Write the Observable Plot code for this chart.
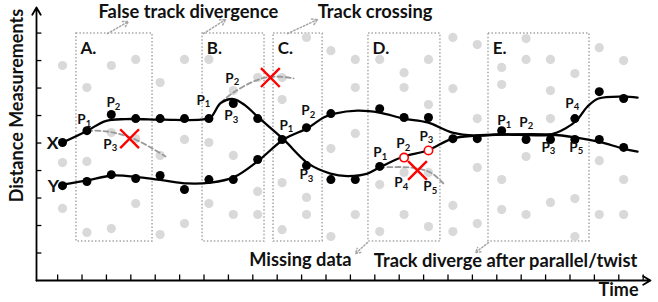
<!DOCTYPE html>
<html>
<head>
<meta charset="utf-8">
<script src="https://cdn.jsdelivr.net/npm/d3@7"></script>
<script src="https://cdn.jsdelivr.net/npm/@observablehq/plot@0.6"></script>
<style>
  html, body { margin: 0; padding: 0; background: #fff; }
  #chart svg { display: block; }
</style>
</head>
<body>
<div id="chart"></div>
<script>
// ---- scales (time in measurement columns, distance in tick units) ----
const xDomain = [-0.066, 25.1];
const yDomain = [0, 9.93];
const xTickPos = d3.range(0.8, 25, 1);
const yTickPos = [1, 2, 3, 4, 5, 6, 7, 8, 9];

// ---- clutter / background measurements (gray) ----
const grayDots = [
  [1,7.82],[1,4.29],[1,2.62],
  [2,7.02],[2,4.33],[2,1.75],
  [3,7.82],[3,5.38],[3,1.89],
  [4,8.04],[4,5.16],[4,2.80],
  [5,7.20],[5,4.55],[5,1.67],
  [6,8.04],[6,5.13],[6,2.07],
  [7,8.04],[7,5.02],[7,2.80],
  [8,6.91],[8,4.55],[8,2.40],
  [9,7.38],[9,3.24],[9,2.40],
  [10,7.38],[10,6.58],[10,3.56],[10,1.85],
  [11,8.84],[11,3.02],[11,2.40],
  [12,8.36],[12,4.80],[12,1.60],
  [13,8.04],[13,7.02],[13,5.35],[13,2.40],
  [14,8.04],[14,3.49],[14,1.78],
  [15,7.56],[15,7.02],[15,3.93],[15,2.40],
  [16,8.04],[16,6.40],[16,3.93],[16,1.96],
  [17,8.84],[17,6.98],[17,2.73],[17,1.78],
  [18,8.58],[18,5.89],[18,4.11],[18,2.07],
  [19,7.75],[19,7.13],[19,3.67],[19,2.58],
  [20,8.80],[20,8.04],[20,4.51],[20,2.40],
  [21,8.04],[21,6.91],[21,5.89],[21,2.84],
  [22,7.53],[22,2.98],[22,1.60],
  [23,8.47],[23,4.36],[23,2.40],
  [24,8.00],[24,3.67],[24,2.40]
];

// ---- track X measurements (black) ----
const trackXDots = [
  [1,5.02],[2,5.45],[3,6.04],[4,5.89],[5,5.89],[6,5.89],[7,5.89],[8,6.44],
  [9,5.89],[10,5.13],[11,4.18],[12,3.67],[13,3.67],[14,4.15],
  [17,5.16],[18,5.16],[19,5.45],[20,5.13],[21,5.13],[22,5.13],[23,5.13],[24,4.84]
];
// ---- track Y measurements (black) ----
const trackYDots = [
  [1,3.45],[2,3.60],[3,3.85],[4,3.71],[5,3.82],[6,3.31],[7,3.67],[8,3.67],
  [9,4.40],[11,5.56],[12,6.07],[14,6.25],[15,5.93],[16,5.93],
  [22,5.89],[23,6.87],[24,6.62]
];
// ---- ambiguous measurements (red open circles) ----
const openDots = [[15,4.47],[16,4.73]];

// ---- estimated track curves ----
const trackXLine = [
  [1.00,5.02],[2.02,5.45],[2.76,5.80],[3.58,5.87],[5.14,5.85],[6.66,5.85],[7.07,5.93],
  [7.48,6.45],[8.01,6.60],[8.50,6.36],[9.03,5.93],[10.06,5.13],[11.08,4.25],[11.98,3.89],
  [12.68,3.80],[13.50,3.89],[13.99,4.11],[14.98,4.51],[15.96,4.73],[16.98,5.16],
  [17.93,5.27],[18.95,5.31],[21.00,5.31],[22.07,5.20],[22.97,5.05],[23.99,4.80],[24.57,4.69]
];
const trackYLine = [
  [1.00,3.49],[2.02,3.64],[3.05,3.82],[4.16,3.75],[5.14,3.64],[6.12,3.53],[7.07,3.56],
  [8.01,3.75],[9.03,4.36],[10.06,5.13],[11.08,5.56],[11.70,5.93],[12.15,6.07],[13.09,6.18],
  [13.99,6.11],[14.98,5.89],[15.96,5.75],[16.98,5.38],[17.93,5.27],[18.95,5.31],[21.00,5.31],
  [21.61,5.53],[22.07,5.82],[22.52,6.33],[22.97,6.62],[23.99,6.69],[24.57,6.65]
];
// ---- false hypotheses (gray dashed) ----
const ghostA = [[2.02,5.45],[2.84,5.42],[3.79,5.20],[4.61,4.84],[5.22,4.51]];
const ghostB = [[7.48,6.47],[8.01,6.84],[9.03,7.31],[9.73,7.42],[10.47,7.35]];
const ghostD = [[13.99,4.11],[15.26,4.11],[16.08,3.93],[16.61,3.53]];
// ---- rejected hypotheses (red crosses) ----
const rejects = [[3.75,5.16],[9.52,7.38],[15.55,4.00]];

// ---- scenario boxes ----
const boxNames = ["A.", "B.", "C.", "D.", "E."];
const boxStart = [1.57, 6.74, 9.65, 13.54, 18.46];
const boxEnd   = [4.69, 9.28, 11.66, 16.49, 22.60];
const boxBottom = 1.42, boxTop = 8.98;

// ---- point labels: [time, distance, subscript] ----
const pLabels = [
  [1.78,5.85,"1"],[2.97,6.47,"2"],[2.84,4.95,"3"],
  [6.66,6.55,"1"],[7.84,7.35,"2"],[7.80,6.00,"3"],
  [10.06,5.64,"1"],[10.96,6.18,"2"],[10.88,3.85,"3"],
  [13.91,4.65,"1"],[14.85,4.98,"2"],[15.80,5.24,"3"],[14.77,3.56,"4"],[15.96,3.42,"5"],
  [18.99,5.82,"1"],[19.89,5.75,"2"],[20.80,4.84,"3"],[21.78,6.44,"4"],[21.94,4.84,"5"]
];
const trackNames = [["X",0.59,4.98],["Y",0.63,3.42]];

// ---- annotations ----
const notes = [
  ["False track divergence", 6.16, 9.75],
  ["Track crossing", 13.81, 9.75],
  ["Missing data", 10.75, 0.73],
  ["Track diverge after parallel/twist", 19.16, 0.69]
];
const noteArrows = [
  [2.84,8.98,3.70,9.42],
  [6.78,8.98,7.68,9.49],
  [10.22,8.98,11.45,9.49],
  [13.50,1.38,13.01,0.98],
  [18.46,1.38,17.93,1.02]
];

const F = "Lato, sans-serif";
const xy = {x: d => d[0], y: d => d[1]};

const chart = Plot.plot({
  width: 658, height: 302,
  marginLeft: 36, marginRight: 8, marginTop: 7, marginBottom: 22,
  x: {domain: xDomain, axis: null},
  y: {domain: yDomain, axis: null},
  style: {background: "#fff", fontFamily: F, overflow: "visible"},
  marks: [
    Plot.rect(boxNames.map((n, i) => i), {
      x1: i => boxStart[i], x2: i => boxEnd[i], y1: boxBottom, y2: boxTop,
      fill: "none", stroke: "#a6a6a6", strokeWidth: 1.5, strokeDasharray: "1.5,2"
    }),
    Plot.text(boxNames, {
      x: (d, i) => boxStart[i] + 0.17, y: boxTop - 0.54, text: d => d,
      textAnchor: "start", fontSize: 17, fontWeight: "bold", fill: "#111"
    }),
    Plot.dot(grayDots, {...xy, r: 4.6, fill: "#d9d9d9"}),
    Plot.line(ghostA, {...xy, curve: "catmull-rom", stroke: "#999", strokeWidth: 1.8, strokeDasharray: "5,3"}),
    Plot.line(ghostB, {...xy, curve: "catmull-rom", stroke: "#999", strokeWidth: 1.8, strokeDasharray: "5,3"}),
    Plot.line(ghostD, {...xy, curve: "catmull-rom", stroke: "#999", strokeWidth: 1.8, strokeDasharray: "5,3"}),
    Plot.line(trackXLine, {...xy, curve: "catmull-rom", stroke: "#000", strokeWidth: 2.3}),
    Plot.line(trackYLine, {...xy, curve: "catmull-rom", stroke: "#000", strokeWidth: 2.3}),
    Plot.dot(trackXDots, {...xy, r: 4.5, fill: "#000"}),
    Plot.dot(trackYDots, {...xy, r: 4.5, fill: "#000"}),
    Plot.dot(openDots, {...xy, r: 4.2, fill: "#fff", stroke: "#f00", strokeWidth: 1.6}),
    Plot.dot(rejects, {...xy, symbol: "times", r: 8.6, stroke: "#f00", strokeWidth: 2.4}),
    Plot.text(pLabels, {...xy, text: () => "P", fontSize: 13.5, fontWeight: "bold", fill: "#111"}),
    Plot.text(pLabels, {...xy, text: d => d[2], dx: 7, dy: 4, fontSize: 9.5, fontWeight: "bold", fill: "#111"}),
    Plot.text(trackNames, {x: d => d[1], y: d => d[2], text: d => d[0], fontSize: 17.5, fontWeight: "bold", fill: "#111"}),
    Plot.text(notes, {x: d => d[1], y: d => d[2], text: d => d[0], fontSize: 18.3, fontWeight: "bold", fill: "#111"}),
    Plot.arrow(noteArrows, {
      x1: d => d[0], y1: d => d[1], x2: d => d[2], y2: d => d[3],
      stroke: "#a6a6a6", strokeWidth: 1.5, strokeDasharray: "1.5,2", headLength: 6
    }),
    // axes
    Plot.ruleX(xTickPos, {x: d => d, y1: 0, y2: 0.2, stroke: "#000", strokeWidth: 1.3}),
    Plot.ruleY(yTickPos, {y: d => d, x1: xDomain[0], x2: xDomain[0] + 0.22, stroke: "#000", strokeWidth: 1.3}),
    Plot.arrow([0], {x1: xDomain[0], y1: 0, x2: xDomain[1], y2: 0, stroke: "#000", strokeWidth: 1.8, headLength: 7, insetEnd: 0}),
    Plot.arrow([0], {x1: xDomain[0], y1: 0, x2: xDomain[0], y2: yDomain[1], stroke: "#000", strokeWidth: 1.8, headLength: 7, insetEnd: 0}),
    Plot.text(["Time"], {x: 23.79, y: -0.36, text: d => d, fontSize: 18, fontWeight: "bold", fill: "#111"}),
    Plot.text(["Distance Measurements"], {x: -0.84, y: 6.36, text: d => d, rotate: -90, fontSize: 18, fontWeight: "bold", fill: "#111"})
  ]
});
document.getElementById("chart").appendChild(chart);
</script>
</body>
</html>
